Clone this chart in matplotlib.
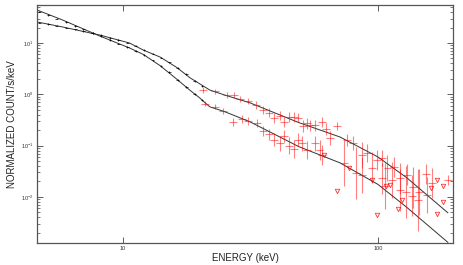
import numpy as np
import matplotlib
matplotlib.use('Agg')
import matplotlib.pyplot as plt
from matplotlib.ticker import FixedLocator, NullLocator, LogLocator

plt.rcParams['font.family'] = ['Liberation Sans', 'DejaVu Sans']

# model curves (keV, counts/s/keV)
mod_hi_e = [4.5, 4.6, 5.8, 8.1, 10.6, 12.0, 14.0, 16.3, 18.3, 20.0, 21.9, 25.0, 31.5, 49.0, 71.0, 100.0, 130.0, 188.0]
mod_hi_v = [26.5, 25.7, 20.5, 14.3, 10.0, 7.3, 5.3, 3.3, 2.1, 1.6, 1.21, 0.97, 0.68, 0.28, 0.147, 0.06, 0.0234, 0.0049]
mod_lo_e = [4.5, 4.6, 5.8, 8.1, 10.6, 12.0, 14.0, 16.3, 18.3, 20.0, 21.0, 21.9, 25.0, 31.5, 49.0, 71.0, 100.0, 130.0, 188.0]
mod_lo_v = [47.0, 44.0, 28.0, 13.7, 8.0, 6.0, 3.6, 1.95, 1.2, 0.85, 0.68, 0.57, 0.46, 0.29, 0.095, 0.046, 0.0175, 0.0062, 0.0013]

# low energy (black) spectra
blk_e = [4.7, 5.1, 5.5, 6.0, 6.5, 7.0, 7.6, 8.2, 8.9, 9.6, 10.4, 11.2, 12.1, 13.1, 14.1, 15.2, 16.4, 17.7, 19.1, 20.4]
blk_hi_v = [25, 23.5, 21.8, 20, 18.5, 17, 15.6, 14.2, 12.6, 11.3, 10.2, 8.9, 7.3, 6.2, 5.2, 4.2, 3.25, 2.5, 1.8, 1.45]
blk_lo_v = [41, 35, 30, 25.5, 21.5, 18.5, 15.8, 13.4, 11.3, 9.7, 8.3, 7.0, 5.8, 4.6, 3.6, 2.7, 1.9, 1.4, 1.0, 0.78]

# high energy (red) spectra, error half-length in dex
red_hi_e = [20.6, 22.9, 25.5, 27.3, 28.8, 30.9, 33.2, 35.4, 37.4, 39.1, 41.3, 42.8, 44.8, 46.9, 48.6,
            50.8, 52.7, 54.1, 56.6, 60.3, 62.5, 64.9, 69.1, 75.5, 79.8, 86.5, 90.6, 94.7, 99.0, 103.7,
            109, 115.6, 122, 130, 137, 145, 154, 163, 188]
red_hi_v = [1.21, 1.15, 0.97, 0.97, 0.80, 0.74, 0.62, 0.49, 0.44, 0.34, 0.38, 0.29, 0.36, 0.36, 0.35,
            0.24, 0.27, 0.25, 0.25, 0.29, 0.21, 0.14, 0.24, 0.129, 0.112, 0.066, 0.072, 0.037, 0.052, 0.057,
            0.037, 0.038, 0.023, 0.027, 0.0155, 0.0125, 0.028, 0.0187, 0.0213]
red_hi_d = [.05, .05, .05, .05, .06, .06, .07, .08, .08, .10, .09, .10, .09, .09, .09,
            .12, .11, .11, .11, .10, .12, .14, .08, .12, .14, .25, .18, .30, .20, .15,
            .25, .20, .30, .20, .40, .45, .20, .30, .10]

red_lo_e = [21.0, 22.9, 24.7, 27.0, 29.4, 30.9, 33.6, 35.4, 37.4, 39.1, 41.3, 42.8, 44.8, 46.9, 48.6,
            50.5, 52.7, 56.6, 59.0, 60.3, 73.6, 82.0, 86.5, 103.7, 107, 113.5, 122, 129, 136, 143.5, 155.6]
red_lo_v = [0.66, 0.57, 0.48, 0.29, 0.33, 0.30, 0.28, 0.19, 0.165, 0.13, 0.11, 0.155, 0.10, 0.085, 0.13,
            0.11, 0.082, 0.11, 0.082, 0.066, 0.046, 0.029, 0.027, 0.023, 0.016, 0.021, 0.0136, 0.0125, 0.0105, 0.0087, 0.011]
red_lo_d = [.05, .05, .06, .08, .07, .08, .08, .10, .11, .13, .15, .12, .16, .18, .13,
            .15, .18, .15, .20, .20, .45, .50, .35, .30, .45, .35, .40, .50, .40, .60, .35]

# upper limits
ul_e = [61.5, 69, 77, 95, 99, 107.5, 111.5, 120, 124, 161, 170, 180, 180, 170]
ul_v = [0.066, 0.013, 0.037, 0.021, 0.0045, 0.0163, 0.017, 0.0058, 0.0085, 0.0148, 0.021, 0.0163, 0.0081, 0.0046]


def dexerr(v, d):
    v = np.array(v); d = np.array(d)
    return [v * (1 - 10**-d), v * (10**d - 1)]


fig = plt.figure(figsize=(4.63, 2.65), dpi=100)
ax = fig.add_axes([37/463, 22/265, 416/463, 238/265])

ax.plot(mod_hi_e, mod_hi_v, '-', color='#333333', lw=0.7)
ax.plot(mod_lo_e, mod_lo_v, '-', color='#333333', lw=0.7)

for v in [blk_hi_v, blk_lo_v]:
    e = np.array(blk_e)
    ax.errorbar(blk_e, v, xerr=0.012*e, yerr=dexerr(v, [0.015]*len(v)), fmt='none',
                ecolor='black', elinewidth=0.5)

for e, v, d in [(red_hi_e, red_hi_v, red_hi_d), (red_lo_e, red_lo_v, red_lo_d)]:
    ea = np.array(e)
    ax.errorbar(e, v, xerr=0.035*ea, yerr=dexerr(v, d), fmt='none',
                ecolor='red', elinewidth=0.8, alpha=0.5)
ax.plot(ul_e, ul_v, 'v', ms=3.2, mfc='none', mec='red', mew=0.6, alpha=0.8)

ax.set_xscale('log')
ax.set_yscale('log')
ax.set_xlim(4.6, 197)
ax.set_ylim(1.26e-3, 55)

ax.xaxis.set_major_locator(FixedLocator([10, 100]))
ax.xaxis.set_minor_locator(NullLocator())
ax.set_xticklabels(['10', '100'])
ax.yaxis.set_major_locator(LogLocator(base=10))
ax.yaxis.set_minor_locator(LogLocator(base=10, subs=np.arange(2, 10)))
ax.tick_params(which='both', direction='in', top=True, right=True, labelsize=4,
               color='#444444', labelcolor='#333333', pad=2.5)
ax.tick_params(which='major', length=4, width=0.6)
ax.tick_params(which='minor', length=2, width=0.5)
for s in ax.spines.values():
    s.set_color('#555555')
    s.set_linewidth(0.9)

ax.set_xlabel('ENERGY (keV)', fontsize=7, color='#222222')
ax.set_ylabel('NORMALIZED COUNT/s/keV', fontsize=7, color='#222222')
ax.xaxis.set_label_coords(0.5, -0.042)
ax.yaxis.set_label_coords(-0.047, 0.5)

plt.savefig('out.png', dpi=100)
